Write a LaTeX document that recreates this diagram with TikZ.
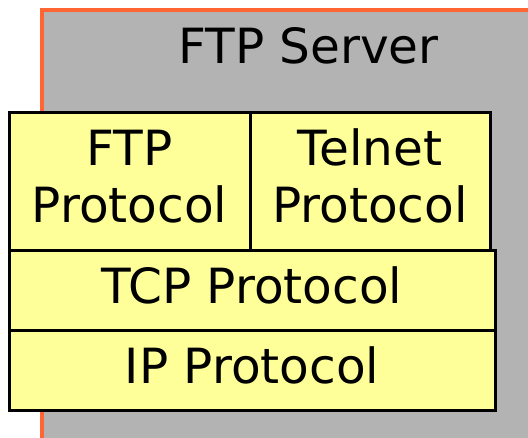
\documentclass[tikz,border=0pt]{standalone}
\usepackage{fontspec}
\setmainfont{DejaVu Sans}
\definecolor{srvgray}{HTML}{B3B3B3}
\definecolor{srvorange}{HTML}{FF6633}
\definecolor{layeryellow}{HTML}{FFFF99}
\begin{document}
\begin{tikzpicture}[x=1pt,y=-1pt,
  layerbox/.style={draw=black,line width=3pt,fill=layeryellow},
  lbl/.style={inner sep=0pt,anchor=base,font=\fontsize{48.5}{57}\selectfont}]
\useasboundingbox (0,0) rectangle (528,437);
\fill[srvgray] (42,10) rectangle (560,470);
\draw[srvorange,line width=3.5pt] (42,470) -- (42,10) -- (560,10);
\node[lbl] (srv) at (308.5,63) {FTP Server};
\draw[layerbox] (9,112) rectangle (250,250);
\draw[layerbox] (250,112) rectangle (490,250);
\draw[layerbox] (9,250) rectangle (495,330);
\draw[layerbox] (9,330) rectangle (495,410);
\node[lbl] (ftp1) at (129.5,165) {FTP};
\node[lbl] (ftp2) at (129.5,222) {Protocol};
\node[lbl] (tel1) at (370,165) {Telnet};
\node[lbl] (tel2) at (370,222) {Protocol};
\node[lbl] (tcp) at (252,303) {TCP Protocol};
\node[lbl] (ip) at (252,383) {IP Protocol};
\end{tikzpicture}
\end{document}
